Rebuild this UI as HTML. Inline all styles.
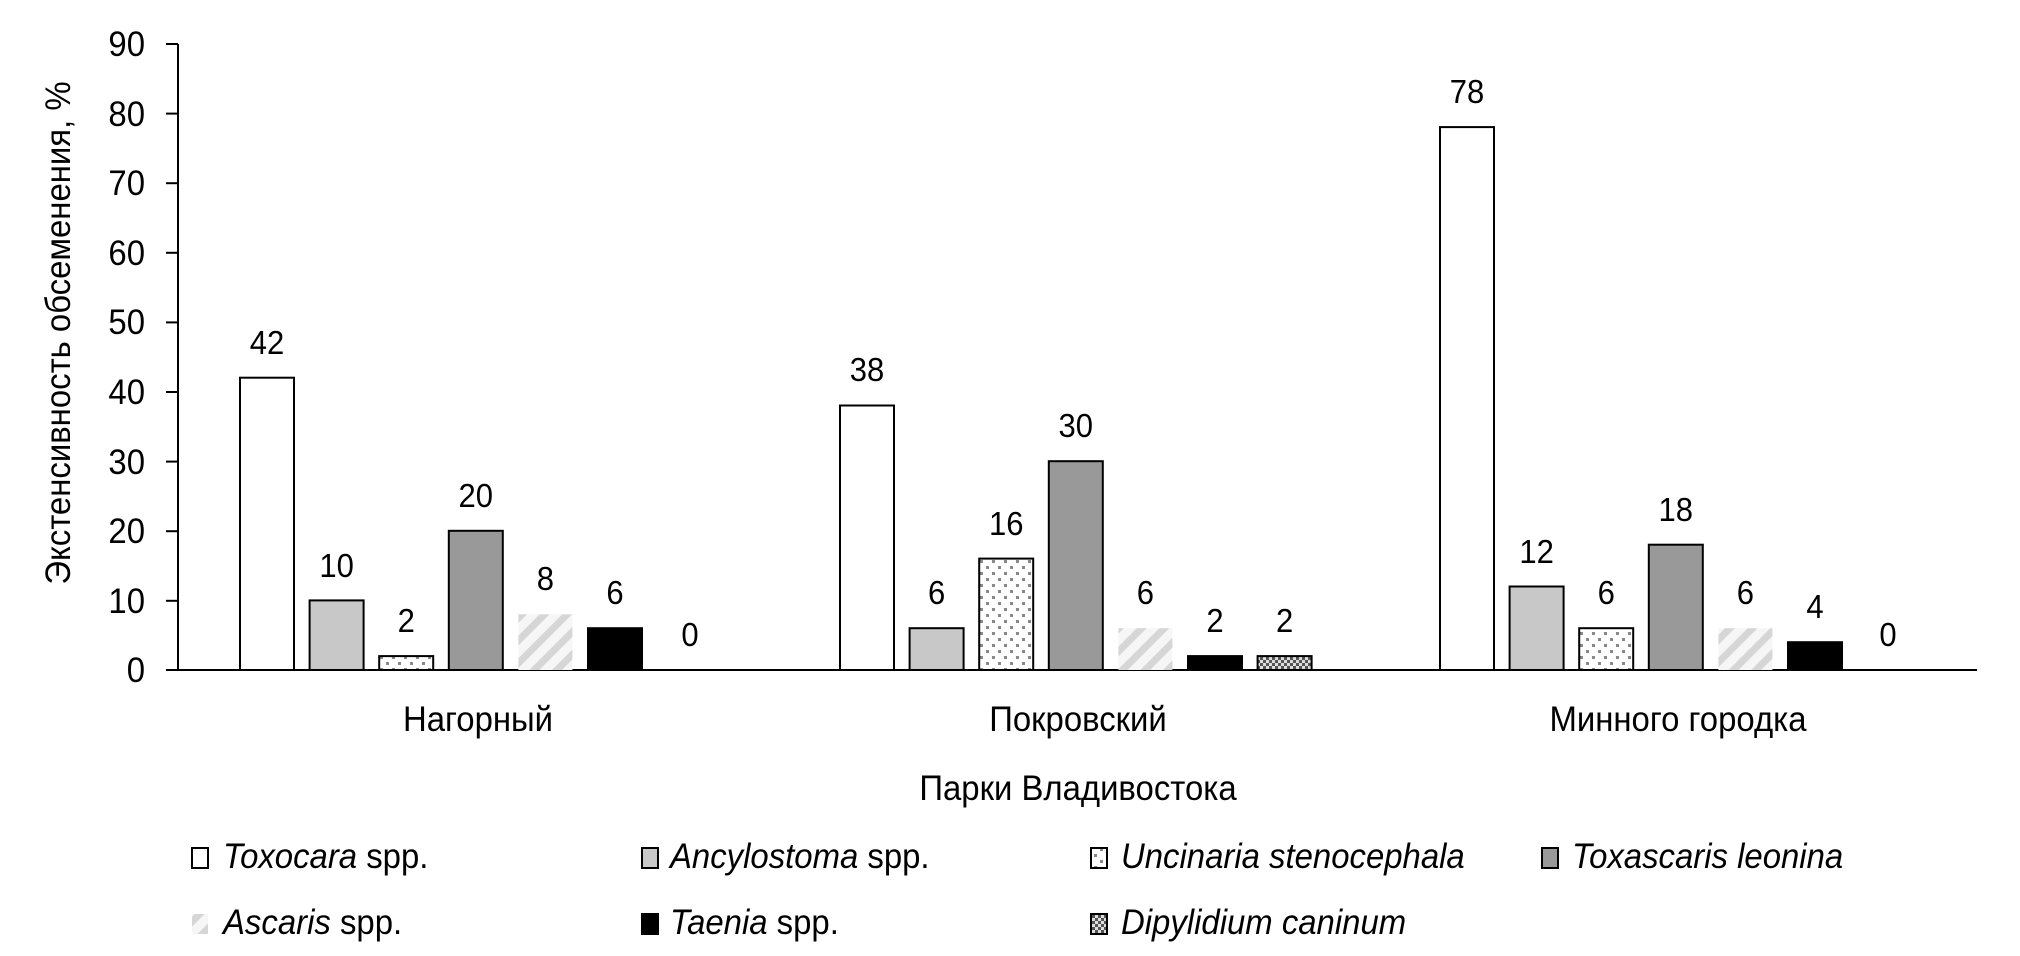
<!DOCTYPE html>
<html><head><meta charset="utf-8"><style>
html,body{margin:0;padding:0;background:#fff}
svg{display:block}
text{font-family:"Liberation Sans Narrow","Liberation Sans",sans-serif;fill:#000}
</style></head><body>
<svg width="2020" height="956" viewBox="0 0 2020 956" xmlns="http://www.w3.org/2000/svg">
<defs>
<pattern id="dots" width="12" height="12" patternUnits="userSpaceOnUse">
<rect width="12" height="12" fill="#fff"/><rect x="2" y="2" width="3" height="3" fill="#888"/><rect x="8" y="8" width="3" height="3" fill="#888"/>
</pattern>
<pattern id="stripes" width="16" height="16" patternUnits="userSpaceOnUse" patternTransform="rotate(45)">
<rect width="16" height="16" fill="#f6f6f6"/><rect width="7" height="16" fill="#d6d6d6"/>
</pattern>
<pattern id="check" width="6" height="6" patternUnits="userSpaceOnUse">
<rect width="6" height="6" fill="#555"/><rect width="3" height="3" fill="#ddd"/><rect x="3" y="3" width="3" height="3" fill="#ddd"/>
</pattern>
</defs>
<g stroke="#000" stroke-width="2">
<line x1="178" y1="44" x2="178" y2="671"/>
<line x1="166" y1="670" x2="1977" y2="670"/>
<line x1="166" y1="44" x2="178" y2="44"/><line x1="166" y1="113.6" x2="178" y2="113.6"/>
<line x1="166" y1="183.2" x2="178" y2="183.2"/><line x1="166" y1="252.8" x2="178" y2="252.8"/>
<line x1="166" y1="322.4" x2="178" y2="322.4"/><line x1="166" y1="392" x2="178" y2="392"/>
<line x1="166" y1="461.6" x2="178" y2="461.6"/><line x1="166" y1="531.2" x2="178" y2="531.2"/>
<line x1="166" y1="600.8" x2="178" y2="600.8"/>
</g>
<g font-size="35" text-anchor="end">
<text transform="translate(145,56) scale(.94,1)">90</text>
<text transform="translate(145,126) scale(.94,1)">80</text>
<text transform="translate(145,195) scale(.94,1)">70</text>
<text transform="translate(145,265) scale(.94,1)">60</text>
<text transform="translate(145,334) scale(.94,1)">50</text>
<text transform="translate(145,404) scale(.94,1)">40</text>
<text transform="translate(145,474) scale(.94,1)">30</text>
<text transform="translate(145,543) scale(.94,1)">20</text>
<text transform="translate(145,613) scale(.94,1)">10</text>
<text transform="translate(145,682) scale(.94,1)">0</text>
</g>
<text font-size="35" text-anchor="middle" transform="translate(70,333) rotate(-90) scale(.94,1)">Экстенсивность обсеменения, %</text>
<g stroke="#000" stroke-width="2">
<rect x="240" y="377.7" width="54" height="292.3" fill="#fff"/>
<rect x="309.6" y="600.4" width="54" height="69.6" fill="#c8c8c8"/>
<rect x="379.2" y="656.1" width="54" height="13.9" fill="url(#dots)"/>
<rect x="448.8" y="530.8" width="54" height="139.2" fill="#999"/>
<rect x="518.4" y="614.3" width="54" height="55.7" fill="url(#stripes)" stroke="none"/>
<rect x="588" y="628.2" width="54" height="41.8" fill="#000"/>
<rect x="840" y="405.5" width="54" height="264.5" fill="#fff"/>
<rect x="909.6" y="628.2" width="54" height="41.8" fill="#c8c8c8"/>
<rect x="979.2" y="558.6" width="54" height="111.4" fill="url(#dots)"/>
<rect x="1048.8" y="461.2" width="54" height="208.8" fill="#999"/>
<rect x="1118.4" y="628.2" width="54" height="41.8" fill="url(#stripes)" stroke="none"/>
<rect x="1188" y="656.1" width="54" height="13.9" fill="#000"/>
<rect x="1257.6" y="656.1" width="54" height="13.9" fill="url(#check)"/>
<rect x="1440" y="127.1" width="54" height="542.9" fill="#fff"/>
<rect x="1509.6" y="586.5" width="54" height="83.5" fill="#c8c8c8"/>
<rect x="1579.2" y="628.2" width="54" height="41.8" fill="url(#dots)"/>
<rect x="1648.8" y="544.7" width="54" height="125.3" fill="#999"/>
<rect x="1718.4" y="628.2" width="54" height="41.8" fill="url(#stripes)" stroke="none"/>
<rect x="1788" y="642.2" width="54" height="27.8" fill="#000"/>
</g>
<g font-size="33" text-anchor="middle">
<text transform="translate(267,354) scale(.94,1)">42</text>
<text transform="translate(336.6,577) scale(.94,1)">10</text>
<text transform="translate(406.2,632) scale(.94,1)">2</text>
<text transform="translate(475.8,507) scale(.94,1)">20</text>
<text transform="translate(545.4,590) scale(.94,1)">8</text>
<text transform="translate(615,604) scale(.94,1)">6</text>
<text transform="translate(690,646) scale(.94,1)">0</text>
<text transform="translate(867,381) scale(.94,1)">38</text>
<text transform="translate(936.6,604) scale(.94,1)">6</text>
<text transform="translate(1006.2,535) scale(.94,1)">16</text>
<text transform="translate(1075.8,437) scale(.94,1)">30</text>
<text transform="translate(1145.4,604) scale(.94,1)">6</text>
<text transform="translate(1215,632) scale(.94,1)">2</text>
<text transform="translate(1284.6,632) scale(.94,1)">2</text>
<text transform="translate(1467,103) scale(.94,1)">78</text>
<text transform="translate(1536.6,563) scale(.94,1)">12</text>
<text transform="translate(1606.2,604) scale(.94,1)">6</text>
<text transform="translate(1675.8,521) scale(.94,1)">18</text>
<text transform="translate(1745.4,604) scale(.94,1)">6</text>
<text transform="translate(1815,618) scale(.94,1)">4</text>
<text transform="translate(1888,646) scale(.94,1)">0</text>
</g>
<g font-size="35" text-anchor="middle">
<text transform="translate(478,731) scale(.94,1)">Нагорный</text>
<text transform="translate(1078,731) scale(.94,1)">Покровский</text>
<text transform="translate(1678,731) scale(.94,1)">Минного городка</text>
<text transform="translate(1078,800) scale(.94,1)">Парки Владивостока</text>
</g>
<g stroke="#000" stroke-width="2">
<rect x="192" y="848" width="16" height="20" fill="#fff"/>
<rect x="642" y="848" width="16" height="20" fill="#c8c8c8"/>
<rect x="1091" y="848" width="16" height="20" fill="url(#dots)"/>
<rect x="1542" y="848" width="16" height="20" fill="#999"/>
<rect x="192" y="914" width="16" height="20" fill="url(#stripes)" stroke="none"/>
<rect x="642" y="914" width="16" height="20" fill="#000"/>
<rect x="1091" y="914" width="16" height="20" fill="url(#check)"/>
</g>
<g font-size="35">
<text transform="translate(223,868) scale(.94,1)"><tspan font-style="italic">Toxocara</tspan> spp.</text>
<text transform="translate(670,868) scale(.94,1)"><tspan font-style="italic">Ancylostoma</tspan> spp.</text>
<text transform="translate(1121,868) scale(.94,1)" font-style="italic">Uncinaria stenocephala</text>
<text transform="translate(1572,868) scale(.94,1)" font-style="italic">Toxascaris leonina</text>
<text transform="translate(223,934) scale(.94,1)"><tspan font-style="italic">Ascaris</tspan> spp.</text>
<text transform="translate(670,934) scale(.94,1)"><tspan font-style="italic">Taenia</tspan> spp.</text>
<text transform="translate(1121,934) scale(.94,1)" font-style="italic">Dipylidium caninum</text>
</g>
</svg>
</body></html>
